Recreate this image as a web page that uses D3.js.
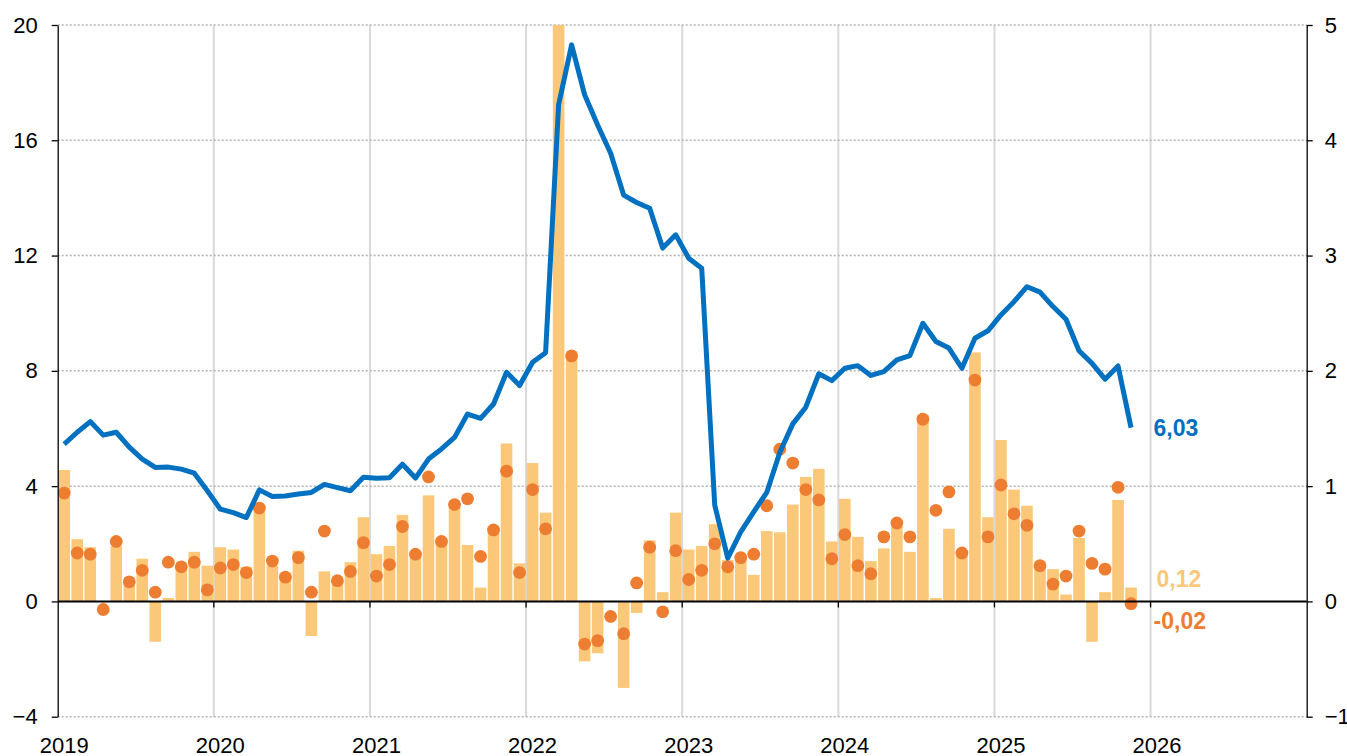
<!DOCTYPE html>
<html>
<head>
<meta charset="utf-8">
<script src="https://cdn.jsdelivr.net/npm/d3@7"></script>
<style>
  body { margin: 0; background: #fff; }
  svg { display: block; font-family: 'Liberation Sans', Arial, sans-serif; }
</style>
</head>
<body>
<div class="container"></div>
<script>
  const years = ['2019', '2020', '2021', '2022', '2023', '2024', '2025', '2026'];
  const leftTicks = [-4, 0, 4, 8, 12, 16, 20];
  const rightTicks = [-1, 0, 1, 2, 3, 4, 5];

  // monthly change, Jan 2019 - Nov 2025 (right axis)
  const monthlyBars = [
    1.14, 0.54, 0.47, 0.00, 0.48, 0.19, 0.37, -0.35, 0.03, 0.32, 0.43, 0.31,
    0.47, 0.45, 0.30, 0.82, 0.31, 0.25, 0.44, -0.30, 0.26, 0.19, 0.34, 0.73,
    0.41, 0.48, 0.75, 0.43, 0.92, 0.55, 0.85, 0.49, 0.12, 0.65, 1.37, 0.33,
    1.20, 0.77, 5.00, 2.15, -0.52, -0.45, 0.00, -0.75, -0.10, 0.53, 0.08, 0.77,
    0.45, 0.48, 0.67, 0.36, 0.39, 0.23, 0.61, 0.60, 0.84, 1.08, 1.15, 0.52,
    0.89, 0.56, 0.35, 0.46, 0.65, 0.43, 1.62, 0.03, 0.63, 0.44, 2.16, 0.73,
    1.40, 0.97, 0.83, 0.34, 0.28, 0.06, 0.55, -0.35, 0.08, 0.88, 0.12
  ];

  // second monthly series (right axis), Mar 2022 lies above the plot
  const monthlyDots = [
    0.94, 0.42, 0.41, -0.07, 0.52, 0.17, 0.27, 0.08, 0.34, 0.30, 0.34, 0.10,
    0.29, 0.32, 0.25, 0.81, 0.35, 0.21, 0.38, 0.08, 0.61, 0.18, 0.26, 0.51,
    0.22, 0.32, 0.65, 0.41, 1.08, 0.52, 0.84, 0.89, 0.39, 0.62, 1.13, 0.25,
    0.97, 0.63, null, 2.13, -0.37, -0.34, -0.13, -0.28, 0.16, 0.47, -0.09, 0.44,
    0.19, 0.27, 0.50, 0.30, 0.38, 0.41, 0.83, 1.32, 1.20, 0.97, 0.88, 0.37,
    0.58, 0.31, 0.24, 0.56, 0.68, 0.56, 1.58, 0.79, 0.95, 0.42, 1.92, 0.56,
    1.01, 0.76, 0.66, 0.31, 0.15, 0.22, 0.61, 0.33, 0.28, 0.99, -0.02
  ];

  // annual change (left axis)
  const annualLine = [
    5.46, 5.87, 6.24, 5.77, 5.87, 5.35, 4.94, 4.65, 4.66, 4.59, 4.45, 3.84,
    3.20, 3.08, 2.91, 3.87, 3.64, 3.66, 3.73, 3.78, 4.06, 3.95, 3.84, 4.31,
    4.27, 4.29, 4.76, 4.28, 4.94, 5.29, 5.69, 6.50, 6.35, 6.85, 7.95, 7.49,
    8.30, 8.63, 17.23, 19.31, 17.58, 16.53, 15.55, 14.10, 13.84, 13.64, 12.26, 12.72,
    11.91, 11.56, 3.34, 1.50, 2.41, 3.11, 3.78, 5.17, 6.16, 6.74, 7.90, 7.66,
    8.09, 8.18, 7.84, 7.97, 8.38, 8.53, 9.65, 9.02, 8.79, 8.09, 9.13, 9.39,
    9.94, 10.40, 10.92, 10.73, 10.23, 9.79, 8.70, 8.26, 7.71, 8.17, 6.03
  ];

  const lastLabels = ['6,03', '0,12', '-0,02'];

  const width = 1347;
  const height = 756;
  const padding = { top: 25, right: 40.3, bottom: 39.3, left: 57.7 };
  const blue = '#0070c0';
  const barColor = '#fac878';
  const dotColor = '#ed7d31';

  const svg = d3.select('.container')
    .append('svg')
    .attr('width', width)
    .attr('height', height);

  // Scales: x runs on month index, 8 years shown
  const xScale = d3.scaleLinear()
    .domain([0, years.length * 12])
    .range([padding.left, width - padding.right]);

  const yLeft = d3.scaleLinear()
    .domain([-4, 20])
    .range([height - padding.bottom, padding.top]);

  const yRight = d3.scaleLinear()
    .domain([-1, 5])
    .range([height - padding.bottom, padding.top]);

  const plotTop = padding.top;
  const plotBottom = height - padding.bottom;
  const plotLeft = padding.left;
  const plotRight = width - padding.right;

  svg.append('clipPath')
    .attr('id', 'plot-clip')
    .append('rect')
    .attr('x', plotLeft)
    .attr('y', plotTop)
    .attr('width', plotRight - plotLeft)
    .attr('height', plotBottom - plotTop);

  // Vertical year gridlines
  svg.append('g')
    .selectAll('line')
    .data(years.slice(1))
    .enter()
    .append('line')
    .attr('x1', (d, i) => xScale((i + 1) * 12))
    .attr('x2', (d, i) => xScale((i + 1) * 12))
    .attr('y1', plotTop)
    .attr('y2', plotBottom)
    .attr('stroke', '#d9d9d9')
    .attr('stroke-width', 2);

  // Horizontal dotted gridlines
  svg.append('g')
    .selectAll('line')
    .data(leftTicks.filter(d => d !== 0))
    .enter()
    .append('line')
    .attr('x1', plotLeft)
    .attr('x2', plotRight)
    .attr('y1', d => yLeft(d))
    .attr('y2', d => yLeft(d))
    .attr('stroke', '#b4b4b4')
    .attr('stroke-width', 1.5)
    .attr('stroke-dasharray', '2,2');

  const plot = svg.append('g').attr('clip-path', 'url(#plot-clip)');

  // Bars
  const band = xScale(1) - xScale(0);
  plot.selectAll('rect.bar')
    .data(monthlyBars)
    .enter()
    .append('rect')
    .attr('class', 'bar')
    .attr('x', (d, i) => xScale(i) + 0.7)
    .attr('width', band - 1.4)
    .attr('y', d => yRight(Math.max(d, 0)))
    .attr('height', d => Math.abs(yRight(d) - yRight(0)))
    .attr('fill', barColor);

  // Zero line with small year ticks
  svg.append('line')
    .attr('x1', plotLeft)
    .attr('x2', plotRight)
    .attr('y1', yLeft(0))
    .attr('y2', yLeft(0))
    .attr('stroke', '#000')
    .attr('stroke-width', 2);

  svg.append('g')
    .selectAll('line')
    .data(years.slice(1))
    .enter()
    .append('line')
    .attr('x1', (d, i) => xScale((i + 1) * 12))
    .attr('x2', (d, i) => xScale((i + 1) * 12))
    .attr('y1', yLeft(0))
    .attr('y2', yLeft(0) + 6)
    .attr('stroke', '#000')
    .attr('stroke-width', 1.3);

  // Dots
  plot.selectAll('circle')
    .data(monthlyDots.map((v, i) => ({ v, i })).filter(d => d.v !== null))
    .enter()
    .append('circle')
    .attr('cx', d => xScale(d.i + 0.5))
    .attr('cy', d => yRight(d.v))
    .attr('r', 6.4)
    .attr('fill', dotColor);

  // Annual line
  const line = d3.line()
    .x((d, i) => xScale(i + 0.5))
    .y(d => yLeft(d));

  plot.append('path')
    .datum(annualLine)
    .attr('d', line)
    .attr('fill', 'none')
    .attr('stroke', blue)
    .attr('stroke-width', 5)
    .attr('stroke-linejoin', 'round');

  // Axes
  const leftAxis = svg.append('g')
    .attr('transform', `translate(${plotLeft}, 0)`)
    .call(d3.axisLeft(yLeft)
      .tickValues(leftTicks)
      .tickFormat(d3.format('d'))
      .tickSize(6)
      .tickSizeOuter(0)
      .tickPadding(14));

  const rightAxis = svg.append('g')
    .attr('transform', `translate(${plotRight}, 0)`)
    .call(d3.axisRight(yRight)
      .tickValues(rightTicks)
      .tickFormat(d3.format('d'))
      .tickSize(6)
      .tickSizeOuter(0)
      .tickPadding(12));

  [leftAxis, rightAxis].forEach(axis => {
    axis.attr('font-family', null).attr('font-size', null);
    axis.selectAll('path, line').attr('stroke', '#000').attr('stroke-width', 1.3);
    axis.selectAll('text').attr('fill', '#000').style('font-size', '22px');
  });

  // Year labels, centred on January
  svg.append('g')
    .selectAll('text')
    .data(years)
    .enter()
    .append('text')
    .attr('x', (d, i) => xScale(i * 12 + 0.5))
    .attr('y', plotBottom + 36)
    .attr('text-anchor', 'middle')
    .style('font-size', '22px')
    .text(d => d);

  // Last value labels
  const last = annualLine.length - 1;
  const labelX = xScale(last) + 29;
  const labelData = [
    { text: lastLabels[0], y: yLeft(annualLine[last]), color: blue },
    { text: lastLabels[1], y: yRight(monthlyBars[last]) - 9, color: barColor },
    { text: lastLabels[2], y: yRight(monthlyDots[last]) + 17, color: dotColor }
  ];

  svg.append('g')
    .selectAll('text')
    .data(labelData)
    .enter()
    .append('text')
    .attr('x', (d, i) => labelX + (i === 1 ? 3 : 0))
    .attr('y', d => d.y)
    .attr('dy', '0.35em')
    .attr('fill', d => d.color)
    .style('font-size', '23px')
    .style('font-weight', 'bold')
    .text(d => d.text);
</script>
</body>
</html>
